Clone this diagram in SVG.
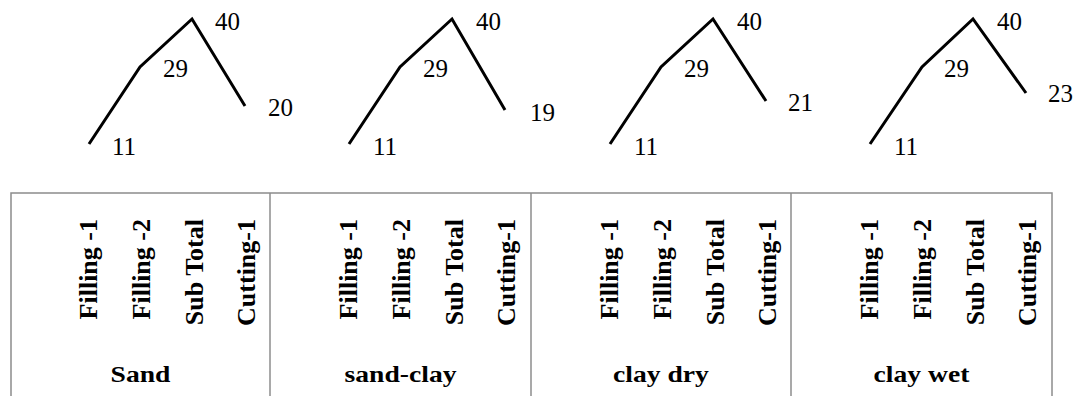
<svg xmlns="http://www.w3.org/2000/svg" width="1081" height="396" viewBox="0 0 1081 396">
<style>
.ln{fill:none;stroke:#000;stroke-width:3;stroke-linejoin:miter}
.num{font-family:"Liberation Serif","Times New Roman",serif;font-size:25px;fill:#000}
.vt{font-family:"Liberation Serif","Times New Roman",serif;font-size:26px;font-weight:bold;fill:#000}
.bt{font-family:"Liberation Serif","Times New Roman",serif;font-size:24px;font-weight:bold;fill:#000}
.box{fill:none;stroke:#8c8c8c;stroke-width:1.5}
</style>
<rect width="1081" height="396" fill="#fff"/>
<g id="connectors">
<polyline class="ln" points="89,144 140,67 192,19 245,106"/>
<polyline class="ln" points="349,144 400,67 452,19 505,110"/>
<polyline class="ln" points="610,144 661,67 713,19 766,101"/>
<polyline class="ln" points="870,144 922,67 973,19 1026,93"/>
</g>
<g id="chart-sand">
<text class="num" x="112" y="155">11</text>
<text class="num" x="163" y="77">29</text>
<text class="num" x="215" y="30">40</text>
<text class="num" x="268" y="116">20</text>
</g>
<g id="chart-sand-clay">
<text class="num" x="373" y="155">11</text>
<text class="num" x="423" y="77">29</text>
<text class="num" x="476" y="30">40</text>
<text class="num" x="530" y="121">19</text>
</g>
<g id="chart-clay-dry">
<text class="num" x="634" y="155">11</text>
<text class="num" x="684" y="77">29</text>
<text class="num" x="737" y="30">40</text>
<text class="num" x="788" y="111">21</text>
</g>
<g id="chart-clay-wet">
<text class="num" x="894" y="155">11</text>
<text class="num" x="944" y="77">29</text>
<text class="num" x="997" y="30">40</text>
<text class="num" x="1048" y="102">23</text>
</g>
<g id="table">
<rect class="box" x="11" y="193" width="1041" height="230"/>
<line class="box" x1="270" y1="193" x2="270" y2="396"/>
<line class="box" x1="531" y1="193" x2="531" y2="396"/>
<line class="box" x1="791" y1="193" x2="791" y2="396"/>
</g>
<g id="panel-sand">
<text class="vt" text-anchor="end" transform="translate(97,219) rotate(-90)">Filling -1</text>
<text class="vt" text-anchor="end" transform="translate(150,219) rotate(-90)">Filling -2</text>
<text class="vt" text-anchor="end" transform="translate(203,219) rotate(-90)">Sub Total</text>
<text class="vt" text-anchor="end" transform="translate(255,219) rotate(-90)">Cutting-1</text>
<text class="bt" text-anchor="middle" transform="translate(140.5,382) scale(1.15,1)">Sand</text>
</g>
<g id="panel-sand-clay">
<text class="vt" text-anchor="end" transform="translate(357,219) rotate(-90)">Filling -1</text>
<text class="vt" text-anchor="end" transform="translate(410,219) rotate(-90)">Filling -2</text>
<text class="vt" text-anchor="end" transform="translate(463,219) rotate(-90)">Sub Total</text>
<text class="vt" text-anchor="end" transform="translate(515,219) rotate(-90)">Cutting-1</text>
<text class="bt" text-anchor="middle" transform="translate(400.5,382) scale(1.15,1)">sand-clay</text>
</g>
<g id="panel-clay-dry">
<text class="vt" text-anchor="end" transform="translate(618,219) rotate(-90)">Filling -1</text>
<text class="vt" text-anchor="end" transform="translate(671,219) rotate(-90)">Filling -2</text>
<text class="vt" text-anchor="end" transform="translate(724,219) rotate(-90)">Sub Total</text>
<text class="vt" text-anchor="end" transform="translate(776,219) rotate(-90)">Cutting-1</text>
<text class="bt" text-anchor="middle" transform="translate(661,382) scale(1.15,1)">clay dry</text>
</g>
<g id="panel-clay-wet">
<text class="vt" text-anchor="end" transform="translate(878,219) rotate(-90)">Filling -1</text>
<text class="vt" text-anchor="end" transform="translate(931,219) rotate(-90)">Filling -2</text>
<text class="vt" text-anchor="end" transform="translate(984,219) rotate(-90)">Sub Total</text>
<text class="vt" text-anchor="end" transform="translate(1036,219) rotate(-90)">Cutting-1</text>
<text class="bt" text-anchor="middle" transform="translate(921.5,382) scale(1.15,1)">clay wet</text>
</g>
</svg>
